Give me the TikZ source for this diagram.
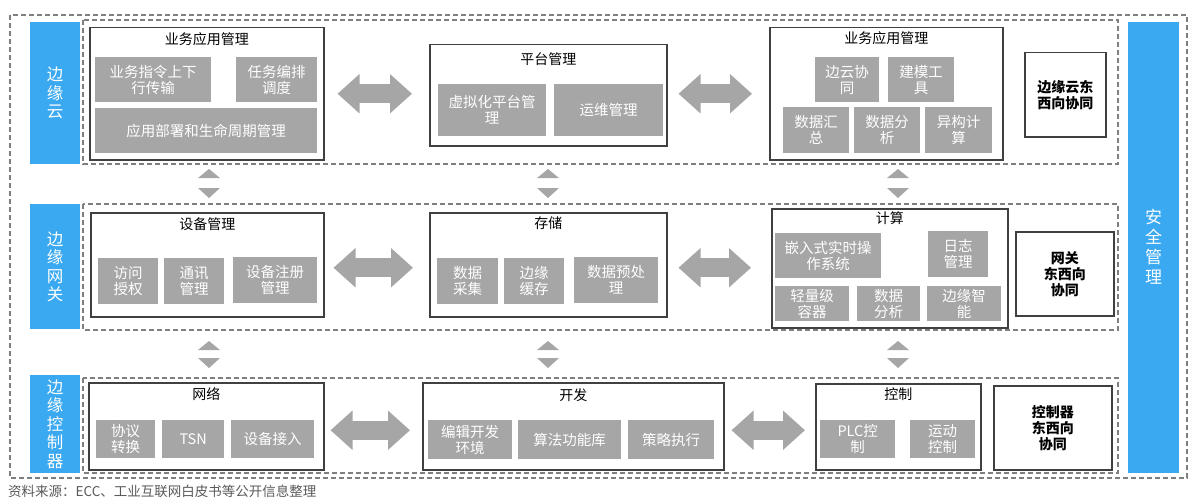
\documentclass[tikz,border=0pt]{standalone}
\usepackage{fontspec}
\setmainfont{Noto Sans CJK SC}
\usetikzlibrary{positioning, arrows.meta}

\definecolor{edgeblue}{HTML}{3AA9F1}
\definecolor{subgray}{HTML}{A6A6A6}
\definecolor{boxline}{HTML}{404040}
\definecolor{dashgray}{HTML}{7F7F7F}
\definecolor{notegray}{HTML}{595959}

\tikzset{
  layerbar/.style = {fill=edgeblue, text=white, align=center, anchor=north west,
                     font=\fontsize{16.5}{18.5}\selectfont, inner sep=0pt},
  rowframe/.style = {draw=dashgray, dash pattern=on 5pt off 3pt, line width=1.3pt},
  groupbox/.style = {draw=boxline, line width=1.5pt, fill=white, anchor=north west, inner sep=0pt},
  grouptitle/.style = {font=\fontsize{14}{16}\selectfont, text=black, anchor=north, inner sep=0pt},
  subbox/.style = {fill=subgray, text=white, align=center, anchor=north west, inner sep=1pt,
                   font=\fontsize{14.5}{16}\selectfont},
  peerbox/.style = {draw=boxline, line width=1.5pt, align=center, anchor=north west,
                    font=\fontsize{14}{16}\selectfont\bfseries},
  fatarrow/.style = {draw=subgray, line width=19pt,
                     {Triangle[length=22pt,width=38pt]}-{Triangle[length=22pt,width=38pt]}},
}

\begin{document}
\begin{tikzpicture}[x=1pt, y=-1pt]
    \useasboundingbox (0,0) rectangle (1193,500);

    % outer frame and layer frames
    \draw[rowframe] (10,15) rectangle (1187,478);
    \draw[rowframe] (83,20) rectangle (1118,164);
    \draw[rowframe] (83,204) rectangle (1118,330);
    \draw[rowframe] (83,378) rectangle (1118,473);

    % layer names
    \node[layerbar, minimum width=50, minimum height=142] (cloud) at (30,22) {边\\缘\\云};
    \node[layerbar, minimum width=50, minimum height=125] (gate) at (30,204) {边\\缘\\网\\关};
    \node[layerbar, minimum width=50, minimum height=98] (ctrlr) at (30,375) {边\\缘\\控\\制\\器};
    \node[layerbar, minimum width=51, minimum height=451, anchor=north west] (sec) at (1128,22) {};
    \node[text=white, align=center, font=\fontsize{17}{20}\selectfont] (sectxt) at (1153.5,247) {安\\全\\管\\理};

    % edge cloud
    \node[groupbox, minimum width=234, minimum height=132] (biz1) at (89,27) {};
    \node[grouptitle, below=5pt of biz1.north] {业务应用管理};
    \node[subbox, minimum width=116, minimum height=45] (cmd) at (95,57) {业务指令上下\\行传输};
    \node[subbox, minimum width=81, minimum height=45] (task) at (236,57) {任务编排\\调度};
    \node[subbox, minimum width=222, minimum height=45] (life) at (95,108) {应用部署和生命周期管理};

    \node[groupbox, minimum width=237, minimum height=101] (plat) at (429,44) {};
    \node[grouptitle, below=8pt of plat.north] {平台管理};
    \node[subbox, minimum width=108, minimum height=52] (virt) at (438,84) {虚拟化平台管\\理};
    \node[subbox, minimum width=109, minimum height=52] (ops) at (554,84) {运维管理};

    \node[groupbox, minimum width=233, minimum height=132] (biz2) at (769,27) {};
    \node[grouptitle, below=4pt of biz2.north] {业务应用管理};
    \node[subbox, minimum width=64, minimum height=45] (ecoop) at (815,57) {边云协\\同};
    \node[subbox, minimum width=66, minimum height=45] (model) at (888,57) {建模工\\具};
    \node[subbox, minimum width=66, minimum height=46] (dsum) at (783,107) {数据汇\\总};
    \node[subbox, minimum width=66, minimum height=46] (dana1) at (854,107) {数据分\\析};
    \node[subbox, minimum width=67, minimum height=46] (hetero) at (925,107) {异构计\\算};

    \node[peerbox, minimum width=81, minimum height=84] (ewcloud) at (1024,52) {边缘云东\\西向协同};

    % edge gateway
    \node[groupbox, minimum width=233, minimum height=104] (dev) at (90,212) {};
    \node[grouptitle, below=5pt of dev.north] {设备管理};
    \node[subbox, minimum width=60, minimum height=46] (auth) at (98,258) {访问\\授权};
    \node[subbox, minimum width=60, minimum height=46] (comm) at (164,258) {通讯\\管理};
    \node[subbox, minimum width=84, minimum height=46] (reg) at (233,257) {设备注册\\管理};

    \node[groupbox, minimum width=237, minimum height=104] (store) at (429,212) {};
    \node[grouptitle, below=5pt of store.north] {存储};
    \node[subbox, minimum width=61, minimum height=46] (collect) at (437,258) {数据\\采集};
    \node[subbox, minimum width=60, minimum height=46] (cache) at (504,258) {边缘\\缓存};
    \node[subbox, minimum width=84, minimum height=46] (prep) at (574,257) {数据预处\\理};

    \node[groupbox, minimum width=236, minimum height=119] (comp) at (771,208) {};
    \node[grouptitle, below=3pt of comp.north] {计算};
    \node[subbox, minimum width=106, minimum height=45] (rtos) at (775,233) {嵌入式实时操\\作系统};
    \node[subbox, minimum width=60, minimum height=46] (log) at (928,231) {日志\\管理};
    \node[subbox, minimum width=74, minimum height=35] (cont) at (775,286) {轻量级\\容器};
    \node[subbox, minimum width=63, minimum height=35] (dana2) at (857,286) {数据\\分析};
    \node[subbox, minimum width=74, minimum height=35] (ai) at (927,286) {边缘智\\能};

    \node[peerbox, minimum width=98, minimum height=84] (ewgate) at (1015,231) {网关\\东西向\\协同};

    % edge controller
    \node[groupbox, minimum width=235, minimum height=87] (net) at (88,382) {};
    \node[grouptitle, below=5pt of net.north] {网络};
    \node[subbox, minimum width=59, minimum height=38] (proto) at (96,420) {协议\\转换};
    \node[subbox, minimum width=62, minimum height=38] (tsn) at (162,420) {TSN};
    \node[subbox, minimum width=83, minimum height=38] (access) at (231,420) {设备接入};

    \node[groupbox, minimum width=301, minimum height=87] (devl) at (422,382) {};
    \node[grouptitle, below=6pt of devl.north] {开发};
    \node[subbox, minimum width=84, minimum height=39] (ide) at (428,420) {编辑开发\\环境};
    \node[subbox, minimum width=103, minimum height=39] (algo) at (518,420) {算法功能库};
    \node[subbox, minimum width=86, minimum height=39] (policy) at (628,420) {策略执行};

    \node[groupbox, minimum width=165, minimum height=86] (ctrl) at (815,383) {};
    \node[grouptitle, below=5pt of ctrl.north] {控制};
    \node[subbox, minimum width=75, minimum height=38] (plc) at (820,420) {PLC控\\制};
    \node[subbox, minimum width=65, minimum height=38] (motion) at (910,420) {运动\\控制};

    \node[peerbox, minimum width=118, minimum height=84] (ewctrl) at (993,385) {控制器\\东西向\\协同};

    % horizontal links
    \draw[fatarrow, shorten <=13pt, shorten >=17pt] (biz1.east) -- (biz1.east -| plat.west);
    \draw[fatarrow, shorten <=11pt, shorten >=17pt] (biz1.east -| plat.east) -- (biz1.east -| biz2.west);
    \draw[fatarrow, shorten <=9pt, shorten >=16pt] ([yshift=-3pt]dev.east) -- ([yshift=-3pt]dev.east -| store.west);
    \draw[fatarrow, shorten <=11pt, shorten >=20pt] ([yshift=-3pt]dev.east -| store.east) -- ([yshift=-3pt]dev.east -| comp.west);
    \draw[fatarrow, shorten <=6pt, shorten >=12pt] ([yshift=-4pt]net.east) -- ([yshift=-4pt]net.east -| devl.west);
    \draw[fatarrow, shorten <=7pt, shorten >=10pt] ([yshift=-4pt]net.east -| devl.east) -- ([yshift=-4pt]net.east -| ctrl.west);

    % vertical links between layers
    \foreach \cx in {209,548,898} {
        \fill[subgray] (\cx-11,178) -- (\cx,169) -- (\cx+11,178) -- cycle;
        \fill[subgray] (\cx-11,188) -- (\cx,198) -- (\cx+11,188) -- cycle;
        \fill[subgray] (\cx-11,350) -- (\cx,341) -- (\cx+11,350) -- cycle;
        \fill[subgray] (\cx-11,358) -- (\cx,368) -- (\cx+11,358) -- cycle;
    }

    % source note
    \node[anchor=west, text=notegray, font=\fontsize{13.5}{15}\selectfont, inner sep=0pt] (src) at (8,491) {资料来源：ECC、工业互联网白皮书等公开信息整理};
\end{tikzpicture}
\end{document}
